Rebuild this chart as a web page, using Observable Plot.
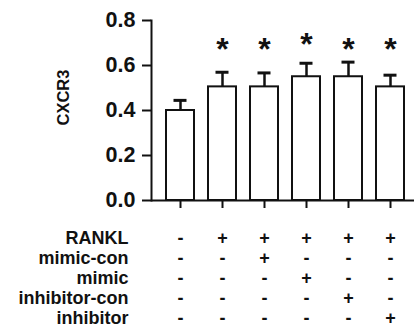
<!DOCTYPE html>
<html>
<head>
<meta charset="utf-8">
<script src="https://cdn.jsdelivr.net/npm/d3@7"></script>
<script src="https://cdn.jsdelivr.net/npm/@observablehq/plot@0.6"></script>
<style>
  html, body { margin: 0; padding: 0; background: #fff; }
  #chart svg { display: block; }
</style>
</head>
<body>
<div id="chart"></div>
<script>
// ---- data ----
const groups = ["G1", "G2", "G3", "G4", "G5", "G6"];
const means = [0.40, 0.505, 0.505, 0.55, 0.55, 0.505];
const errors = [0.045, 0.065, 0.062, 0.06, 0.065, 0.052];
const stars = ["", "*", "*", "*", "*", "*"];
const starLevels = [null, 0.704, 0.704, 0.727, 0.704, 0.704];
const yTicks = [0, 0.2, 0.4, 0.6, 0.8];
const yLabel = "CXCR3";

const rowNames = ["RANKL", "mimic-con", "mimic", "inhibitor-con", "inhibitor"];
const rankl = ["-", "+", "+", "+", "+", "+"];
const mimicCon = ["-", "-", "+", "-", "-", "-"];
const mimic = ["-", "-", "-", "+", "-", "-"];
const inhibitorCon = ["-", "-", "-", "-", "+", "-"];
const inhibitor = ["-", "-", "-", "-", "-", "+"];

// ---- build tables ----
const bars = groups.map((g, i) => ({g, v: means[i], e: errors[i], s: stars[i], sy: starLevels[i]}));
const rowsData = [rankl, mimicCon, mimic, inhibitorCon, inhibitor];
const cells = [];
rowsData.forEach((arr, r) => arr.forEach((s, i) => cells.push({row: rowNames[r], g: groups[i], s})));

const font = "'Liberation Sans', Arial, Helvetica, sans-serif";
const makeX = () => ({type: "band", domain: groups.slice(), range: [151, 419], padding: 0.34, axis: null});

const chart = Plot.plot({
  width: 414,
  height: 215,
  marginLeft: 151,
  marginRight: 0,
  marginTop: 20,
  marginBottom: 15,
  style: {fontFamily: font, fontWeight: "bold", color: "#111", background: "white"},
  x: makeX(),
  y: {domain: [0, 0.8], range: [200, 20], axis: null},
  marks: [
    Plot.barY(bars, {x: "g", y: "v", fill: "white", stroke: "#111", strokeWidth: 2}),
    Plot.ruleX(bars, {x: "g", y1: "v", y2: d => d.v + d.e, stroke: "#111", strokeWidth: 2.5}),
    Plot.tickY(bars, {x: "g", y: d => d.v + d.e, stroke: "#111", strokeWidth: 3, insetLeft: 7.5, insetRight: 7.5}),
    Plot.text(bars.filter(d => d.s), {x: "g", y: "sy", text: "s", fontSize: 32, dy: 8, fill: "#111"}),
    Plot.frame({anchor: "left", stroke: "#111", strokeWidth: 2}),
    Plot.ruleY([0], {stroke: "#111", strokeWidth: 2}),
    Plot.axisY({ticks: yTicks, tickSize: 9, tickPadding: 7, tickFormat: d3.format(".1f"), strokeWidth: 2, label: null, stroke: "#111", fontSize: 21.5, fill: "#111"}),
    Plot.axisX({tickSize: 8, tickFormat: () => "", strokeWidth: 2, label: null, stroke: "#111"}),
    Plot.text([yLabel], {frameAnchor: "left", rotate: -90, dx: -88, dy: 15, fontSize: 16.5, fill: "#111"})
  ]
});

const table = Plot.plot({
  width: 414,
  height: 114,
  marginLeft: 151,
  marginRight: 0,
  marginTop: 0,
  marginBottom: 0,
  style: {fontFamily: font, fontWeight: "bold", color: "#111", background: "white"},
  x: makeX(),
  y: {type: "point", domain: rowNames, range: [22, 103], padding: 0, axis: null},
  marks: [
    Plot.axisY({tickSize: 0, tickPadding: 23, label: null, fontSize: 18, fill: "#111"}),
    Plot.text(cells, {x: "g", y: "row", text: "s", fill: "#111", fontSize: 18})
  ]
});

document.getElementById("chart").append(chart, table);
</script>
</body>
</html>
